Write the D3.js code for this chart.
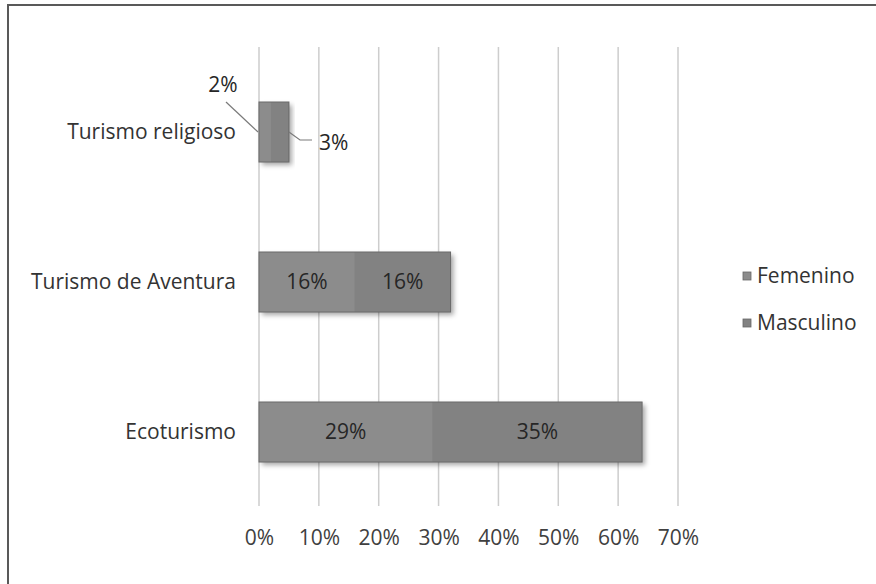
<!DOCTYPE html>
<html><head><meta charset="utf-8">
<script src="https://cdn.jsdelivr.net/npm/d3@7/dist/d3.min.js"></script>
<style>
html,body{margin:0;padding:0;background:#fff;}
svg{display:block;font-family:"Open Sans",sans-serif;}
</style></head>
<body>
<script>
const categories = ["Turismo religioso", "Turismo de Aventura", "Ecoturismo"];
const seriesNames = ["Femenino", "Masculino"];
const femenino = [0.02, 0.16, 0.29];
const masculino = [0.03, 0.16, 0.35];
const xTicks = [0, 0.1, 0.2, 0.3, 0.4, 0.5, 0.6, 0.7];

const W = 876, H = 584;
const FS = 21;
const svg = d3.select("body").append("svg").attr("width", W).attr("height", H);

const defs = svg.append("defs");
const f = defs.append("filter").attr("id","sh").attr("x","-10%").attr("y","-20%").attr("width","130%").attr("height","150%");
f.append("feDropShadow").attr("dx",3).attr("dy",3).attr("stdDeviation",2.5).attr("flood-color","#000").attr("flood-opacity",0.35);

// outer frame
svg.append("rect").attr("x",8).attr("y",5).attr("width",W).attr("height",H)
  .attr("fill","none").attr("stroke","#595959").attr("stroke-width",2);

const x = d3.scaleLinear().domain([0, 0.7]).range([259, 678]);
const y = d3.scaleBand().domain(categories).range([57, 507]).paddingInner(0.6).paddingOuter(0.3);
const color = d3.scaleOrdinal().domain(seriesNames).range(["#8c8c8c", "#828282"]);

// gridlines
svg.append("g").selectAll("line").data(xTicks).join("line")
  .attr("x1", d => x(d)).attr("x2", d => x(d)).attr("y1", 47).attr("y2", 506)
  .attr("stroke", "#cdcdcd").attr("stroke-width", 1.5);

// x axis labels
const xAxis = d3.axisBottom(x).tickValues(xTicks).tickFormat(d3.format(".0%")).tickSize(0);
const gx = svg.append("g").attr("transform","translate(0,527)").call(xAxis);
gx.select(".domain").remove();
gx.selectAll("text").attr("font-size", FS).attr("fill","#404040").attr("font-family","'Open Sans',sans-serif");

// y axis labels
const yAxis = d3.axisLeft(y).tickSize(0).tickPadding(0);
const gy = svg.append("g").attr("transform","translate(236,0)").call(yAxis);
gy.select(".domain").remove();
gy.selectAll("text").attr("font-size", FS).attr("fill","#333").attr("font-family","'Open Sans',sans-serif").attr("dy","0.32em");

// stacked bars
const rows = categories.map((c,i) => ({cat:c, Femenino:femenino[i], Masculino:masculino[i]}));
const stack = d3.stack().keys(seriesNames)(rows);

const barG = svg.append("g");
barG.selectAll("rect.shadow").data(rows).join("rect").attr("class","shadow")
  .attr("x", x(0)).attr("y", d => y(d.cat))
  .attr("width", d => x(d.Femenino + d.Masculino) - x(0)).attr("height", y.bandwidth())
  .attr("fill","#808080").attr("filter","url(#sh)");

stack.forEach(layer => {
  barG.append("g").selectAll("rect").data(layer).join("rect")
    .attr("x", d => x(d[0])).attr("y", d => y(d.data.cat))
    .attr("width", d => x(d[1]) - x(d[0])).attr("height", y.bandwidth())
    .attr("fill", color(layer.key));
});
barG.selectAll("rect.outline").data(rows).join("rect").attr("class","outline")
  .attr("x", x(0)).attr("y", d => y(d.cat))
  .attr("width", d => x(d.Femenino + d.Masculino) - x(0)).attr("height", y.bandwidth())
  .attr("fill","none").attr("stroke","#6a6a6a").attr("stroke-width",1);

// labels
const fmt = d3.format(".0%");
stack.forEach(layer => {
  layer.forEach((d, i) => {
    if (i === 0) return;
    svg.append("text")
      .attr("x", (x(d[0]) + x(d[1])) / 2).attr("y", y(d.data.cat) + y.bandwidth()/2)
      .attr("dy","0.35em").attr("text-anchor","middle")
      .attr("font-size", FS).attr("fill","#262626")
      .text(fmt(d[1]-d[0]));
  });
});
// callouts for small bar
const c0 = categories[0];
const yc = y(c0) + y.bandwidth()/2;
const mEnd = x(stack[1][0][1]);
svg.append("polyline").attr("points", `${x(0)-1},${yc} 226,${y(c0)}`)
  .attr("fill","none").attr("stroke","#7a7a7a").attr("stroke-width",1.2);
svg.append("text").attr("x", 223).attr("y", y(c0)-17).attr("dy","0.35em").attr("text-anchor","middle")
  .attr("font-size",FS).attr("fill","#262626").text(fmt(femenino[0]));
svg.append("polyline").attr("points", `${mEnd},${yc} 300,${yc+8} 312,${yc+8}`)
  .attr("fill","none").attr("stroke","#7a7a7a").attr("stroke-width",1.2);
svg.append("text").attr("x", 319).attr("y", yc+11).attr("dy","0.35em").attr("text-anchor","start")
  .attr("font-size",FS).attr("fill","#262626").text(fmt(masculino[0]));

// legend
const lg = svg.append("g");
seriesNames.forEach((s,i) => {
  const ly = 276 + i*47;
  lg.append("rect").attr("x",743).attr("y",ly-4).attr("width",8).attr("height",8)
    .attr("fill",color(s)).attr("stroke","#666").attr("stroke-width",0.8);
  lg.append("text").attr("x",757).attr("y",ly).attr("dy","0.35em")
    .attr("font-size",FS).attr("fill","#333").text(s);
});
</script>
</body></html>
